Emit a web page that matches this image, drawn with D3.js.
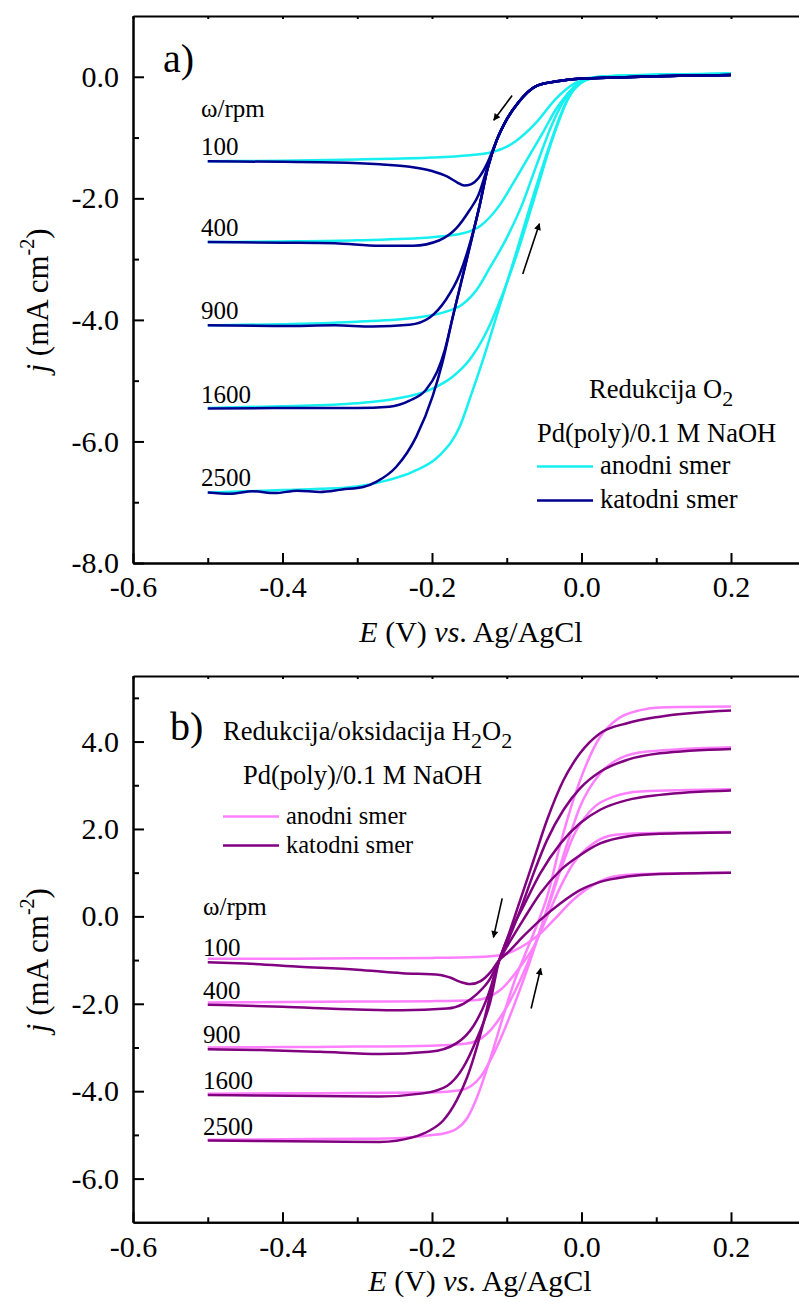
<!DOCTYPE html>
<html>
<head>
<meta charset="utf-8">
<script src="https://cdn.jsdelivr.net/npm/d3@7"></script>
<style>
  html, body { margin: 0; padding: 0; background: #fff; }
  svg { display: block; font-family: "Liberation Serif", "Times New Roman", serif; }
</style>
</head>
<body>
<svg id="chart" width="799" height="1302"></svg>
<script>
// ---------------- DATA ----------------
const rpmLabels = ["100", "400", "900", "1600", "2500"];
const xMajorTicks = [-0.6, -0.4, -0.2, 0.0, 0.2];
const xMinorTicks = [-0.5, -0.3, -0.1, 0.1];
const yMajorTicksA = [-8, -6, -4, -2, 0];
const yMinorTicksA = [-7, -5, -3, -1];
const yMajorTicksB = [-6, -4, -2, 0, 2, 4];
const yMinorTicksB = [-5, -3, -1, 1, 3, 5];

// Panel a) O2 reduction, [E (V), j (mA cm-2)]
const o2Anodic100 = [[-0.5,-1.39],[-0.4,-1.38],[-0.3,-1.36],[-0.2,-1.33],[-0.15,-1.29],[-0.123,-1.25],[-0.1,-1.15],[-0.088,-1.06],[-0.061,-0.76],[-0.035,-0.37],[-0.008,-0.1],[0.01,-0.03],[0.033,0.01],[0.1,0.03],[0.2,0.05]];
const o2Anodic400 = [[-0.5,-2.72],[-0.4,-2.71],[-0.3,-2.69],[-0.2,-2.64],[-0.16,-2.58],[-0.135,-2.45],[-0.11,-2.12],[-0.09,-1.72],[-0.07,-1.3],[-0.05,-0.88],[-0.035,-0.55],[-0.02,-0.3],[-0.005,-0.11],[0.02,-0.01],[0.06,0.02],[0.2,0.05]];
const o2Anodic900 = [[-0.5,-4.09],[-0.4,-4.07],[-0.3,-4.03],[-0.22,-3.96],[-0.18,-3.86],[-0.16,-3.75],[-0.14,-3.5],[-0.123,-3.15],[-0.1,-2.65],[-0.08,-2.12],[-0.06,-1.45],[-0.04,-0.8],[-0.025,-0.42],[-0.012,-0.2],[0.005,-0.05],[0.03,0.0],[0.08,0.02],[0.2,0.05]];
const o2Anodic1600 = [[-0.5,-5.45],[-0.4,-5.42],[-0.3,-5.37],[-0.25,-5.3],[-0.203,-5.15],[-0.172,-4.93],[-0.15,-4.66],[-0.128,-4.22],[-0.105,-3.56],[-0.083,-2.79],[-0.061,-1.91],[-0.039,-1.03],[-0.016,-0.32],[0,-0.1],[0.02,-0.01],[0.06,0.02],[0.2,0.05]];
const o2Anodic2500 = [[-0.5,-6.84],[-0.45,-6.82],[-0.4,-6.8],[-0.35,-6.78],[-0.3,-6.74],[-0.26,-6.64],[-0.226,-6.5],[-0.19,-6.23],[-0.163,-5.76],[-0.147,-5.21],[-0.129,-4.55],[-0.111,-3.83],[-0.089,-2.96],[-0.066,-2.02],[-0.043,-1.14],[-0.021,-0.43],[-0.005,-0.12],[0.01,-0.02],[0.04,0.01],[0.1,0.03],[0.2,0.05]];

const o2Cathodic100 = [[0.2,0.03],[0.1,0.01],[0.05,-0.01],[0,-0.03],[-0.03,-0.07],[-0.06,-0.15],[-0.085,-0.43],[-0.1,-0.7],[-0.113,-1.03],[-0.126,-1.42],[-0.138,-1.67],[-0.148,-1.77],[-0.157,-1.79],[-0.166,-1.74],[-0.18,-1.64],[-0.2,-1.55],[-0.23,-1.48],[-0.27,-1.44],[-0.33,-1.41],[-0.4,-1.4],[-0.5,-1.39]];
const o2Cathodic400 = [[0.2,0.03],[0.1,0.01],[0.05,-0.01],[0,-0.03],[-0.03,-0.07],[-0.06,-0.15],[-0.085,-0.43],[-0.1,-0.7],[-0.113,-1.03],[-0.126,-1.5],[-0.138,-1.95],[-0.15,-2.2],[-0.168,-2.5],[-0.19,-2.69],[-0.225,-2.78],[-0.27,-2.78],[-0.33,-2.74],[-0.4,-2.73],[-0.5,-2.72]];
const o2Cathodic900 = [[0.2,0.03],[0.1,0.01],[0.05,-0.01],[0,-0.03],[-0.03,-0.07],[-0.06,-0.15],[-0.085,-0.43],[-0.1,-0.7],[-0.113,-1.03],[-0.126,-1.53],[-0.136,-2.1],[-0.15,-2.77],[-0.163,-3.25],[-0.181,-3.66],[-0.203,-3.96],[-0.23,-4.08],[-0.28,-4.11],[-0.33,-4.09],[-0.4,-4.1],[-0.5,-4.09]];
const o2Cathodic1600 = [[0.2,0.03],[0.1,0.01],[0.05,-0.01],[0,-0.03],[-0.03,-0.07],[-0.06,-0.15],[-0.085,-0.43],[-0.1,-0.7],[-0.113,-1.03],[-0.126,-1.53],[-0.136,-2.1],[-0.145,-2.57],[-0.159,-3.28],[-0.172,-3.94],[-0.183,-4.5],[-0.193,-4.85],[-0.208,-5.15],[-0.23,-5.33],[-0.257,-5.43],[-0.3,-5.45],[-0.4,-5.45],[-0.5,-5.46]];
const o2Cathodic2500 = [[0.2,0.03],[0.1,0.01],[0.05,-0.01],[0,-0.03],[-0.03,-0.07],[-0.06,-0.15],[-0.085,-0.43],[-0.1,-0.7],[-0.113,-1.03],[-0.126,-1.53],[-0.136,-2.1],[-0.145,-2.57],[-0.159,-3.28],[-0.172,-3.94],[-0.186,-4.7],[-0.199,-5.25],[-0.221,-5.92],[-0.248,-6.42],[-0.274,-6.66],[-0.292,-6.75],[-0.32,-6.79],[-0.35,-6.83],[-0.38,-6.81],[-0.41,-6.85],[-0.44,-6.82],[-0.47,-6.86],[-0.5,-6.84]];

// Panel b) H2O2 reduction/oxidation
const h2o2Anodic100 = [[-0.5,-0.97],[-0.4,-0.97],[-0.3,-0.96],[-0.2,-0.95],[-0.14,-0.93],[-0.109,-0.89],[-0.073,-0.62],[-0.055,-0.39],[-0.037,-0.08],[-0.011,0.38],[0.016,0.72],[0.043,0.91],[0.079,0.97],[0.105,0.98],[0.2,1.0]];
const h2o2Anodic400 = [[-0.5,-1.97],[-0.4,-1.96],[-0.3,-1.95],[-0.2,-1.94],[-0.144,-1.92],[-0.109,-1.69],[-0.082,-1.15],[-0.064,-0.7],[-0.046,-0.01],[-0.028,0.68],[-0.011,1.21],[0.016,1.67],[0.043,1.86],[0.079,1.9],[0.2,1.93]];
const h2o2Anodic900 = [[-0.5,-3.0],[-0.4,-2.99],[-0.3,-2.98],[-0.2,-2.96],[-0.153,-2.91],[-0.126,-2.68],[-0.1,-2.07],[-0.082,-1.46],[-0.064,-0.73],[-0.046,0.14],[-0.028,1.06],[-0.011,1.83],[0.011,2.4],[0.043,2.74],[0.079,2.86],[0.2,2.91]];
const h2o2Anodic1600 = [[-0.5,-4.06],[-0.4,-4.05],[-0.3,-4.04],[-0.2,-4.03],[-0.162,-3.98],[-0.135,-3.67],[-0.113,-2.98],[-0.091,-2.07],[-0.073,-1.23],[-0.055,-0.31],[-0.037,0.68],[-0.019,1.67],[-0.002,2.51],[0.025,3.27],[0.052,3.62],[0.088,3.77],[0.2,3.87]];
const h2o2Anodic2500 = [[-0.5,-5.11],[-0.4,-5.1],[-0.3,-5.09],[-0.24,-5.07],[-0.203,-5.01],[-0.18,-4.95],[-0.167,-4.86],[-0.153,-4.62],[-0.14,-4.15],[-0.122,-3.25],[-0.105,-2.3],[-0.09,-1.5],[-0.075,-0.85],[-0.062,-0.3],[-0.046,0.45],[-0.028,1.67],[-0.011,2.66],[0.007,3.5],[0.025,4.11],[0.047,4.5],[0.079,4.72],[0.105,4.78],[0.2,4.8]];

const h2o2Cathodic100 = [[0.2,1.0],[0.105,0.97],[0.061,0.91],[0.025,0.79],[-0.002,0.6],[-0.028,0.3],[-0.055,-0.08],[-0.078,-0.46],[-0.1,-0.85],[-0.11,-1.0],[-0.122,-1.28],[-0.135,-1.48],[-0.149,-1.55],[-0.162,-1.5],[-0.176,-1.4],[-0.189,-1.34],[-0.24,-1.3],[-0.3,-1.22],[-0.377,-1.15],[-0.45,-1.08],[-0.5,-1.05]];
const h2o2Cathodic400 = [[0.2,1.92],[0.105,1.89],[0.061,1.83],[0.025,1.67],[-0.002,1.4],[-0.028,1.06],[-0.055,0.53],[-0.078,-0.08],[-0.1,-0.7],[-0.11,-1.0],[-0.122,-1.42],[-0.14,-1.78],[-0.158,-2.0],[-0.18,-2.11],[-0.24,-2.15],[-0.3,-2.13],[-0.4,-2.07],[-0.5,-2.02]];
const h2o2Cathodic900 = [[0.2,2.88],[0.105,2.78],[0.061,2.66],[0.025,2.44],[-0.002,2.13],[-0.028,1.67],[-0.055,0.99],[-0.078,0.22],[-0.1,-0.54],[-0.11,-1.0],[-0.127,-1.9],[-0.145,-2.52],[-0.167,-2.9],[-0.203,-3.1],[-0.27,-3.15],[-0.35,-3.1],[-0.43,-3.06],[-0.5,-3.04]];
const h2o2Cathodic1600 = [[0.2,3.83],[0.105,3.73],[0.061,3.58],[0.025,3.31],[-0.002,2.93],[-0.024,2.44],[-0.046,1.75],[-0.064,0.99],[-0.082,0.14],[-0.1,-0.62],[-0.11,-1.0],[-0.122,-1.95],[-0.14,-2.8],[-0.158,-3.45],[-0.18,-3.88],[-0.212,-4.05],[-0.27,-4.12],[-0.35,-4.11],[-0.43,-4.1],[-0.5,-4.09]];
const h2o2Cathodic2500 = [[0.2,4.71],[0.105,4.57],[0.061,4.42],[0.025,4.19],[-0.002,3.73],[-0.024,3.12],[-0.046,2.21],[-0.064,1.29],[-0.082,0.37],[-0.1,-0.54],[-0.11,-1.0],[-0.118,-1.46],[-0.127,-2.15],[-0.14,-2.99],[-0.153,-3.68],[-0.167,-4.21],[-0.185,-4.67],[-0.203,-4.9],[-0.225,-5.05],[-0.27,-5.16],[-0.35,-5.15],[-0.43,-5.14],[-0.5,-5.13]];

// Sweep-direction arrows [E0, j0, E1, j1]
const arrowsA = [[-0.0928,-0.308,-0.1174,-0.715],[-0.0786,-3.245,-0.0563,-2.417]];
const arrowsB = [[-0.1061,0.412,-0.1178,-0.481],[-0.0674,-2.108,-0.0546,-1.191]];

// ---------------- DRAWING ----------------
const svg = d3.select("#chart");
const FONT = "Liberation Serif, Times New Roman, serif";
const fmt = v => (Math.abs(v) < 1e-9 ? 0 : v).toFixed(1);

const x = d3.scaleLinear().domain([-0.6, 0.3]).range([133, 805.75]);

svg.append("defs").append("marker")
  .attr("id", "ah").attr("viewBox", "0 0 10 10").attr("refX", 9).attr("refY", 5)
  .attr("markerWidth", 13).attr("markerHeight", 7).attr("markerUnits", "userSpaceOnUse")
  .attr("orient", "auto")
  .append("path").attr("d", "M0,0 L10,5 L0,10 Z").attr("fill", "#000");

function drawPanel(cfg) {
  const y = d3.scaleLinear().domain(cfg.yDomain).range([cfg.bottom, cfg.top]);
  const g = svg.append("g");
  const [xl, xr] = x.range();

  // curves
  const line = d3.line().x(d => x(d[0])).y(d => y(d[1])).curve(d3.curveMonotoneX);
  const sorted = arr => arr.slice().sort((a, b) => a[0] - b[0]);
  cfg.anodic.forEach(c => g.append("path").attr("d", line(sorted(c)))
    .attr("fill", "none").attr("stroke", cfg.colA).attr("stroke-width", 2.5).attr("stroke-linejoin", "round"));
  cfg.cathodic.forEach(c => g.append("path").attr("d", line(sorted(c)))
    .attr("fill", "none").attr("stroke", cfg.colC).attr("stroke-width", 2.5).attr("stroke-linejoin", "round"));

  // axes
  const styleAxis = sel => {
    sel.selectAll(".domain").attr("stroke", "#000").attr("stroke-width", 2);
    sel.selectAll(".tick line").attr("stroke", "#000").attr("stroke-width", 2);
    sel.selectAll("text").attr("font-family", FONT).attr("font-size", 30).attr("fill", "#000");
  };
  g.append("g").attr("transform", `translate(0,${cfg.bottom})`)
    .call(d3.axisBottom(x).tickValues(xMinorTicks).tickSize(-5).tickSizeOuter(0).tickFormat(""))
    .call(styleAxis);
  g.append("g").attr("transform", `translate(0,${cfg.bottom})`)
    .call(d3.axisBottom(x).tickValues(xMajorTicks).tickSize(-10).tickSizeOuter(0).tickPadding(13).tickFormat(fmt))
    .call(styleAxis);
  g.append("g").attr("transform", `translate(0,${cfg.top})`)
    .call(d3.axisTop(x).tickValues(xMajorTicks.concat(xMinorTicks)).tickSize(-3).tickSizeOuter(0).tickFormat(""))
    .call(styleAxis);
  g.append("g").attr("transform", `translate(${xl},0)`)
    .call(d3.axisLeft(y).tickValues(cfg.yMinor).tickSize(-6).tickSizeOuter(0).tickFormat(""))
    .call(styleAxis);
  g.append("g").attr("transform", `translate(${xl},0)`)
    .call(d3.axisLeft(y).tickValues(cfg.yMajor).tickSize(-11).tickSizeOuter(0).tickPadding(14).tickFormat(fmt))
    .call(styleAxis);
  g.append("g").attr("transform", `translate(${xr},0)`)
    .call(d3.axisRight(y).tickValues([]).tickSizeOuter(0))
    .call(styleAxis);

  // axis titles
  const yt = g.append("text").attr("font-family", FONT).attr("font-size", 31)
    .attr("text-anchor", "middle")
    .attr("transform", `translate(48,${(cfg.top + cfg.bottom) / 2 + 11}) rotate(-90)`);
  yt.append("tspan").attr("font-style", "italic").text("j");
  yt.append("tspan").text(" (mA cm");
  yt.append("tspan").attr("font-size", 20).attr("dy", -14).text("-2");
  yt.append("tspan").attr("dy", 14).text(")");

  const xt = g.append("text").attr("font-family", FONT).attr("font-size", 30)
    .attr("text-anchor", "middle").attr("x", cfg.xTitleX).attr("y", cfg.xTitleY);
  xt.append("tspan").attr("font-style", "italic").text("E");
  xt.append("tspan").text(" (V) ");
  xt.append("tspan").attr("font-style", "italic").text("vs");
  xt.append("tspan").text(". Ag/AgCl");

  // panel letter
  g.append("text").attr("font-family", FONT).attr("font-size", cfg.letterSize)
    .attr("x", cfg.letterX).attr("y", cfg.letterY).text(cfg.letter);

  // rotation rate labels
  g.append("text").attr("font-family", FONT).attr("font-size", 25)
    .attr("x", cfg.rpmX).attr("y", cfg.rpmTitleY).text("\u03C9/rpm");
  cfg.cathodic.forEach((c, i) => {
    const start = c.reduce((a, b) => (b[0] < a[0] ? b : a));
    g.append("text").attr("font-family", FONT).attr("font-size", 25)
      .attr("x", cfg.rpmX).attr("y", y(start[1]) - 6).text(rpmLabels[i]);
  });

  // arrows
  cfg.arrows.forEach(a => g.append("line")
    .attr("x1", x(a[0])).attr("y1", y(a[1])).attr("x2", x(a[2])).attr("y2", y(a[3]))
    .attr("stroke", "#000").attr("stroke-width", 1.6).attr("marker-end", "url(#ah)"));

  // legend
  const L = cfg.legend;
  const t1 = g.append("text").attr("font-family", FONT).attr("font-size", 26.5)
    .attr("x", L.titleX).attr("y", L.titleY);
  L.title.forEach(p => {
    if (p.sub) t1.append("tspan").attr("font-size", 22).attr("dy", 8).text(p.t);
    else t1.append("tspan").attr("dy", p.after ? -8 : 0).text(p.t);
  });
  g.append("text").attr("font-family", FONT).attr("font-size", 26.5)
    .attr("x", L.subX).attr("y", L.subY).text("Pd(poly)/0.1 M NaOH");
  [[cfg.colA, "anodni smer", L.rowY[0]], [cfg.colC, "katodni smer", L.rowY[1]]].forEach(r => {
    g.append("line").attr("x1", L.lineX).attr("x2", L.lineX + 56)
      .attr("y1", r[2] - 7.5).attr("y2", r[2] - 7.5).attr("stroke", r[0]).attr("stroke-width", 2.5);
    g.append("text").attr("font-family", FONT).attr("font-size", L.rowSize)
      .attr("x", L.lineX + 63).attr("y", r[2]).text(r[1]);
  });
}

drawPanel({
  top: 16, bottom: 563, yDomain: [-8, 1],
  yMajor: yMajorTicksA, yMinor: yMinorTicksA,
  colA: "#16F0F0", colC: "#000090",
  anodic: [o2Anodic100, o2Anodic400, o2Anodic900, o2Anodic1600, o2Anodic2500],
  cathodic: [o2Cathodic100, o2Cathodic400, o2Cathodic900, o2Cathodic1600, o2Cathodic2500],
  xTitleX: 471, xTitleY: 642,
  letter: "a)", letterX: 163, letterY: 72, letterSize: 40,
  rpmX: 201, rpmTitleY: 117,
  arrows: arrowsA,
  legend: {
    title: [{t: "Redukcija O"}, {t: "2", sub: true}],
    titleX: 589, titleY: 398, subX: 537, subY: 442, lineX: 537, rowY: [474, 508], rowSize: 26.5
  }
});

drawPanel({
  top: 676, bottom: 1222.3, yDomain: [-7, 5.5],
  yMajor: yMajorTicksB, yMinor: yMinorTicksB,
  colA: "#FF80FF", colC: "#800080",
  anodic: [h2o2Anodic100, h2o2Anodic400, h2o2Anodic900, h2o2Anodic1600, h2o2Anodic2500],
  cathodic: [h2o2Cathodic100, h2o2Cathodic400, h2o2Cathodic900, h2o2Cathodic1600, h2o2Cathodic2500],
  xTitleX: 480, xTitleY: 1291,
  letter: "b)", letterX: 170, letterY: 740, letterSize: 40,
  rpmX: 203, rpmTitleY: 915,
  arrows: arrowsB,
  legend: {
    title: [{t: "Redukcija/oksidacija H"}, {t: "2", sub: true}, {t: "O", after: true}, {t: "2", sub: true}],
    titleX: 223, titleY: 740, subX: 243, subY: 784, lineX: 223, rowY: [824, 853], rowSize: 24.5
  }
});
</script>
</body>
</html>
